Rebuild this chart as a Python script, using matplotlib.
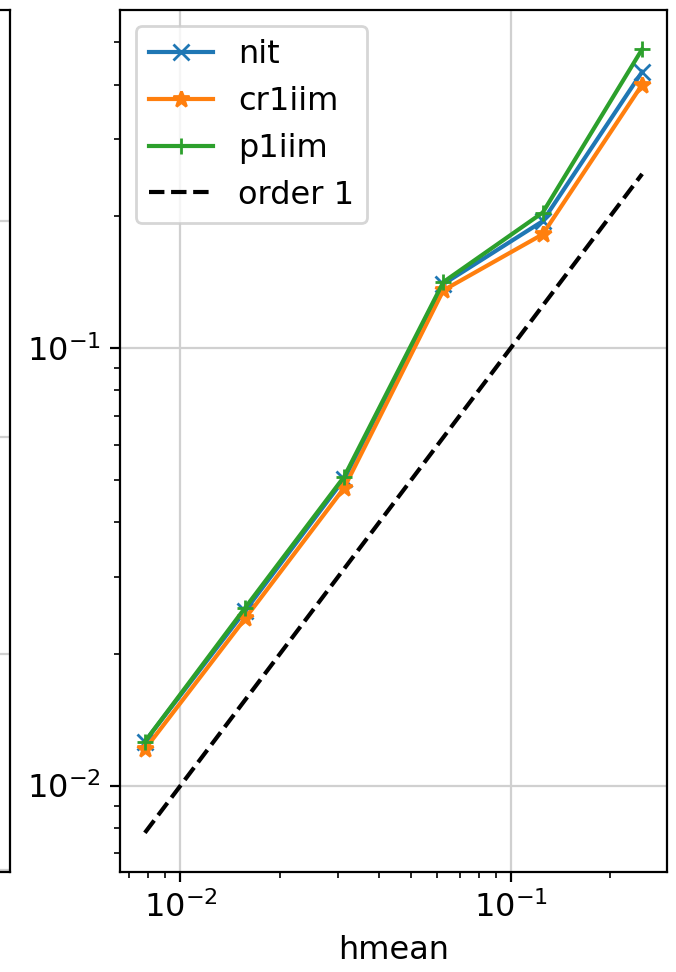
import matplotlib
matplotlib.use("Agg")
import matplotlib.pyplot as plt
import numpy as np

# mean mesh size and errors
hmean = np.array([0.0078, 0.0157, 0.0313, 0.0625, 0.125, 0.25])
err_nit = np.array([0.0126, 0.0251, 0.0502, 0.140, 0.195, 0.428])
err_cr1iim = np.array([0.0121, 0.0241, 0.0479, 0.1355, 0.182, 0.400])
err_p1iim = np.array([0.0126, 0.0255, 0.0508, 0.1415, 0.204, 0.482])

plt.rcParams['font.size'] = 11.5

fig = plt.figure(figsize=(3.38, 4.86), dpi=200)

# left neighbour panel, only its right edge is visible
ax0 = fig.add_axes([-0.6, 0.1029, 0.6148, 0.8868])
ax0.set_yscale('log')
ax0.set_ylim(10**-4.007, 10**-0.0254)
ax0.grid(True, color='#d0d0d0')
ax0.set_xticks([])
ax0.tick_params(which='both', labelleft=False)

ax = fig.add_axes([0.1775, 0.1029, 0.8092, 0.8868])
ax.loglog(hmean, err_nit, marker='x', label='nit')
ax.loglog(hmean, err_cr1iim, marker='*', label='cr1iim')
ax.loglog(hmean, err_p1iim, marker='+', label='p1iim')
ax.loglog(hmean, hmean, 'k--', label='order 1')
ax.set_xlabel('hmean')
ax.grid(True, color='#d0d0d0')
ax.legend(loc='upper left')

fig.savefig('out.png', dpi=200)
